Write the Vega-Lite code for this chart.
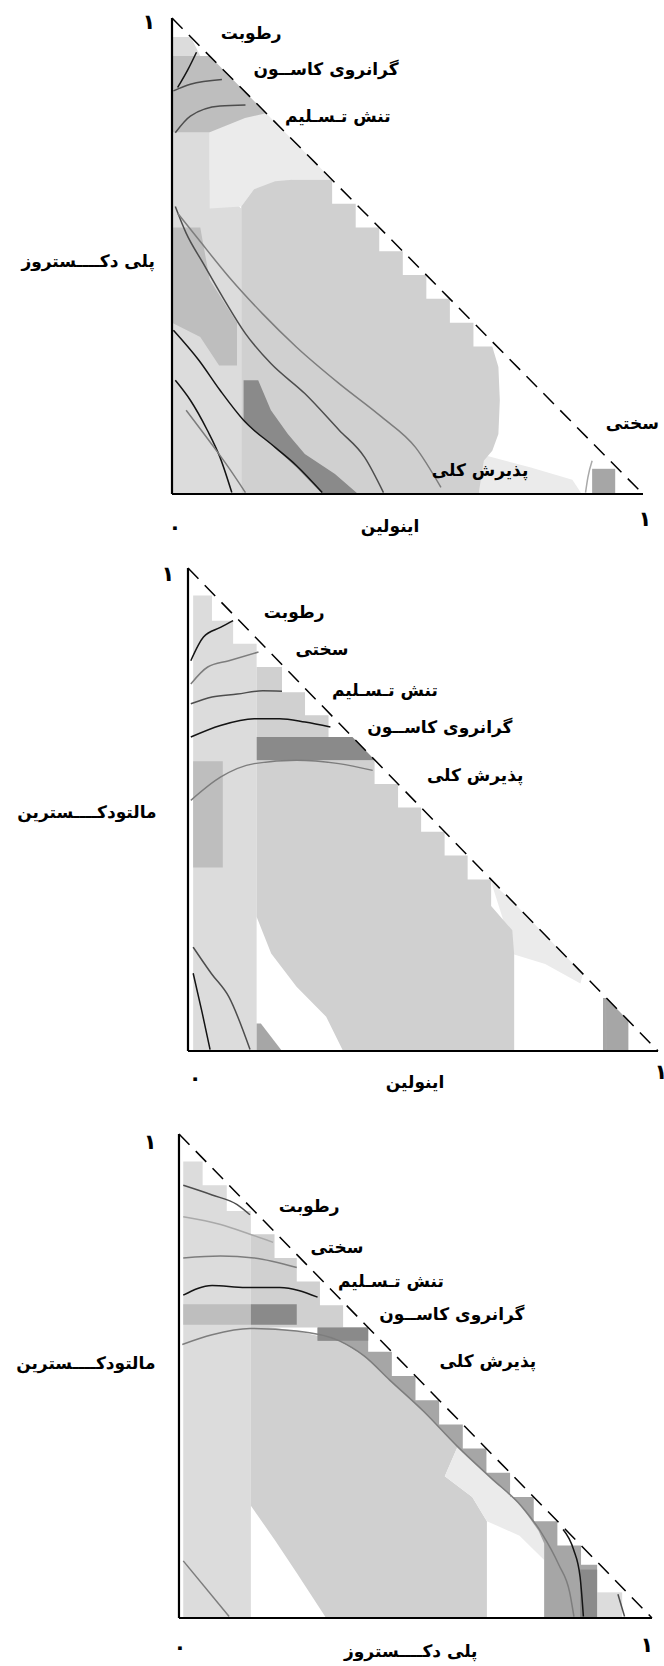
{
"$schema": "https://vega.github.io/schema/vega-lite/v6.json",
"padding": 0,
"spacing": 0,
"bounds": "flush",
"config": {"view": {"stroke": null}},
"datasets": {
"frame": [
{"k":"axis","x":0,"y":0,"x2":0,"y2":1},
{"k":"axis","x":0,"y":0,"x2":1,"y2":0},
{"k":"hyp","x":0,"y":1,"x2":1,"y2":0}
],
"regions": [
{"p":1,"id":"A","z":0,"s":"l2","i":0,"x":0,"y":0},
{"p":1,"id":"A","z":0,"s":"l2","i":1,"x":0.147,"y":0},
{"p":1,"id":"A","z":0,"s":"l2","i":2,"x":0.147,"y":0.6},
{"p":1,"id":"A","z":0,"s":"l2","i":3,"x":0.08,"y":0.66},
{"p":1,"id":"A","z":0,"s":"l2","i":4,"x":0.08,"y":0.88},
{"p":1,"id":"A","z":0,"s":"l2","i":5,"x":0.04,"y":0.96},
{"p":1,"id":"A","z":0,"s":"l2","i":6,"x":0,"y":0.96},
{"p":1,"id":"C","z":0,"s":"l1","i":0,"x":0.08,"y":0.6},
{"p":1,"id":"C","z":0,"s":"l1","i":1,"x":0.08,"y":0.78},
{"p":1,"id":"C","z":0,"s":"l1","i":2,"x":0.2,"y":0.8},
{"p":1,"id":"C","z":0,"s":"l1","i":3,"x":0.34,"y":0.66},
{"p":1,"id":"C","z":0,"s":"l1","i":4,"x":0.255,"y":0.66},
{"p":1,"id":"C","z":0,"s":"l1","i":5,"x":0.174,"y":0.64},
{"p":1,"id":"C","z":0,"s":"l1","i":6,"x":0.147,"y":0.604},
{"p":1,"id":"G","z":0,"s":"l1","i":0,"x":0.62,"y":0},
{"p":1,"id":"G","z":0,"s":"l1","i":1,"x":0.87,"y":0},
{"p":1,"id":"G","z":0,"s":"l1","i":2,"x":0.85,"y":0.03},
{"p":1,"id":"G","z":0,"s":"l1","i":3,"x":0.76,"y":0.056},
{"p":1,"id":"G","z":0,"s":"l1","i":4,"x":0.67,"y":0.08},
{"p":1,"id":"G","z":0,"s":"l1","i":5,"x":0.62,"y":0.05},
{"p":1,"id":"D","z":1,"s":"m1","i":0,"x":0.147,"y":0.604},
{"p":1,"id":"D","z":1,"s":"m1","i":1,"x":0.174,"y":0.64},
{"p":1,"id":"D","z":1,"s":"m1","i":2,"x":0.219,"y":0.657},
{"p":1,"id":"D","z":1,"s":"m1","i":3,"x":0.255,"y":0.66},
{"p":1,"id":"D","z":1,"s":"m1","i":4,"x":0.34,"y":0.66},
{"p":1,"id":"D","z":1,"s":"m1","i":5,"x":0.34,"y":0.61},
{"p":1,"id":"D","z":1,"s":"m1","i":6,"x":0.39,"y":0.61},
{"p":1,"id":"D","z":1,"s":"m1","i":7,"x":0.39,"y":0.56},
{"p":1,"id":"D","z":1,"s":"m1","i":8,"x":0.44,"y":0.56},
{"p":1,"id":"D","z":1,"s":"m1","i":9,"x":0.44,"y":0.51},
{"p":1,"id":"D","z":1,"s":"m1","i":10,"x":0.49,"y":0.51},
{"p":1,"id":"D","z":1,"s":"m1","i":11,"x":0.49,"y":0.46},
{"p":1,"id":"D","z":1,"s":"m1","i":12,"x":0.54,"y":0.46},
{"p":1,"id":"D","z":1,"s":"m1","i":13,"x":0.54,"y":0.41},
{"p":1,"id":"D","z":1,"s":"m1","i":14,"x":0.59,"y":0.41},
{"p":1,"id":"D","z":1,"s":"m1","i":15,"x":0.59,"y":0.36},
{"p":1,"id":"D","z":1,"s":"m1","i":16,"x":0.64,"y":0.36},
{"p":1,"id":"D","z":1,"s":"m1","i":17,"x":0.64,"y":0.31},
{"p":1,"id":"D","z":1,"s":"m1","i":18,"x":0.68,"y":0.31},
{"p":1,"id":"D","z":1,"s":"m1","i":19,"x":0.693,"y":0.267},
{"p":1,"id":"D","z":1,"s":"m1","i":20,"x":0.696,"y":0.197},
{"p":1,"id":"D","z":1,"s":"m1","i":21,"x":0.693,"y":0.126},
{"p":1,"id":"D","z":1,"s":"m1","i":22,"x":0.68,"y":0.091},
{"p":1,"id":"D","z":1,"s":"m1","i":23,"x":0.662,"y":0.07},
{"p":1,"id":"D","z":1,"s":"m1","i":24,"x":0.652,"y":0.007},
{"p":1,"id":"D","z":1,"s":"m1","i":25,"x":0.652,"y":0},
{"p":1,"id":"D","z":1,"s":"m1","i":26,"x":0.147,"y":0},
{"p":1,"id":"B","z":2,"s":"m","i":0,"x":0,"y":0.76},
{"p":1,"id":"B","z":2,"s":"m","i":1,"x":0.08,"y":0.76},
{"p":1,"id":"B","z":2,"s":"m","i":2,"x":0.155,"y":0.79},
{"p":1,"id":"B","z":2,"s":"m","i":3,"x":0.2,"y":0.8},
{"p":1,"id":"B","z":2,"s":"m","i":4,"x":0.08,"y":0.92},
{"p":1,"id":"B","z":2,"s":"m","i":5,"x":0,"y":0.92},
{"p":1,"id":"H","z":2,"s":"m","i":0,"x":0,"y":0.56},
{"p":1,"id":"H","z":2,"s":"m","i":1,"x":0.06,"y":0.56},
{"p":1,"id":"H","z":2,"s":"m","i":2,"x":0.08,"y":0.45},
{"p":1,"id":"H","z":2,"s":"m","i":3,"x":0.138,"y":0.36},
{"p":1,"id":"H","z":2,"s":"m","i":4,"x":0.138,"y":0.27},
{"p":1,"id":"H","z":2,"s":"m","i":5,"x":0.1,"y":0.27},
{"p":1,"id":"H","z":2,"s":"m","i":6,"x":0.06,"y":0.33},
{"p":1,"id":"H","z":2,"s":"m","i":7,"x":0,"y":0.36},
{"p":1,"id":"E","z":2,"s":"d2","i":0,"x":0.152,"y":0.239},
{"p":1,"id":"E","z":2,"s":"d2","i":1,"x":0.183,"y":0.239},
{"p":1,"id":"E","z":2,"s":"d2","i":2,"x":0.21,"y":0.176},
{"p":1,"id":"E","z":2,"s":"d2","i":3,"x":0.246,"y":0.126},
{"p":1,"id":"E","z":2,"s":"d2","i":4,"x":0.282,"y":0.084},
{"p":1,"id":"E","z":2,"s":"d2","i":5,"x":0.346,"y":0.042},
{"p":1,"id":"E","z":2,"s":"d2","i":6,"x":0.395,"y":0},
{"p":1,"id":"E","z":2,"s":"d2","i":7,"x":0.319,"y":0},
{"p":1,"id":"E","z":2,"s":"d2","i":8,"x":0.264,"y":0.056},
{"p":1,"id":"E","z":2,"s":"d2","i":9,"x":0.21,"y":0.105},
{"p":1,"id":"E","z":2,"s":"d2","i":10,"x":0.152,"y":0.155},
{"p":1,"id":"F","z":2,"s":"d1","i":0,"x":0.892,"y":0},
{"p":1,"id":"F","z":2,"s":"d1","i":1,"x":0.941,"y":0},
{"p":1,"id":"F","z":2,"s":"d1","i":2,"x":0.941,"y":0.053},
{"p":1,"id":"F","z":2,"s":"d1","i":3,"x":0.892,"y":0.053},

{"p":2,"id":"A","z":0,"s":"l2","i":0,"x":0.011,"y":0},
{"p":2,"id":"A","z":0,"s":"l2","i":1,"x":0.146,"y":0},
{"p":2,"id":"A","z":0,"s":"l2","i":2,"x":0.146,"y":0.843},
{"p":2,"id":"A","z":0,"s":"l2","i":3,"x":0.096,"y":0.843},
{"p":2,"id":"A","z":0,"s":"l2","i":4,"x":0.096,"y":0.891},
{"p":2,"id":"A","z":0,"s":"l2","i":5,"x":0.051,"y":0.891},
{"p":2,"id":"A","z":0,"s":"l2","i":6,"x":0.051,"y":0.943},
{"p":2,"id":"A","z":0,"s":"l2","i":7,"x":0.011,"y":0.943},
{"p":2,"id":"S","z":0,"s":"m1","i":0,"x":0.146,"y":0.795},
{"p":2,"id":"S","z":0,"s":"m1","i":1,"x":0.2,"y":0.795},
{"p":2,"id":"S","z":0,"s":"m1","i":2,"x":0.2,"y":0.743},
{"p":2,"id":"S","z":0,"s":"m1","i":3,"x":0.249,"y":0.743},
{"p":2,"id":"S","z":0,"s":"m1","i":4,"x":0.249,"y":0.695},
{"p":2,"id":"S","z":0,"s":"m1","i":5,"x":0.299,"y":0.695},
{"p":2,"id":"S","z":0,"s":"m1","i":6,"x":0.299,"y":0.65},
{"p":2,"id":"S","z":0,"s":"m1","i":7,"x":0.146,"y":0.65},
{"p":2,"id":"L","z":0,"s":"l1","i":0,"x":0.645,"y":0.35},
{"p":2,"id":"L","z":0,"s":"l1","i":1,"x":0.69,"y":0.31},
{"p":2,"id":"L","z":0,"s":"l1","i":2,"x":0.84,"y":0.16},
{"p":2,"id":"L","z":0,"s":"l1","i":3,"x":0.835,"y":0.14},
{"p":2,"id":"L","z":0,"s":"l1","i":4,"x":0.76,"y":0.18},
{"p":2,"id":"L","z":0,"s":"l1","i":5,"x":0.694,"y":0.2},
{"p":2,"id":"D","z":1,"s":"m1","i":0,"x":0.146,"y":0.602},
{"p":2,"id":"D","z":1,"s":"m1","i":1,"x":0.397,"y":0.602},
{"p":2,"id":"D","z":1,"s":"m1","i":2,"x":0.397,"y":0.553},
{"p":2,"id":"D","z":1,"s":"m1","i":3,"x":0.447,"y":0.553},
{"p":2,"id":"D","z":1,"s":"m1","i":4,"x":0.447,"y":0.504},
{"p":2,"id":"D","z":1,"s":"m1","i":5,"x":0.496,"y":0.504},
{"p":2,"id":"D","z":1,"s":"m1","i":6,"x":0.496,"y":0.454},
{"p":2,"id":"D","z":1,"s":"m1","i":7,"x":0.546,"y":0.454},
{"p":2,"id":"D","z":1,"s":"m1","i":8,"x":0.546,"y":0.405},
{"p":2,"id":"D","z":1,"s":"m1","i":9,"x":0.595,"y":0.405},
{"p":2,"id":"D","z":1,"s":"m1","i":10,"x":0.595,"y":0.355},
{"p":2,"id":"D","z":1,"s":"m1","i":11,"x":0.645,"y":0.355},
{"p":2,"id":"D","z":1,"s":"m1","i":12,"x":0.645,"y":0.3},
{"p":2,"id":"D","z":1,"s":"m1","i":13,"x":0.69,"y":0.25},
{"p":2,"id":"D","z":1,"s":"m1","i":14,"x":0.694,"y":0.2},
{"p":2,"id":"D","z":1,"s":"m1","i":15,"x":0.694,"y":0},
{"p":2,"id":"D","z":1,"s":"m1","i":16,"x":0.33,"y":0},
{"p":2,"id":"D","z":1,"s":"m1","i":17,"x":0.294,"y":0.071},
{"p":2,"id":"D","z":1,"s":"m1","i":18,"x":0.231,"y":0.133},
{"p":2,"id":"D","z":1,"s":"m1","i":19,"x":0.177,"y":0.202},
{"p":2,"id":"D","z":1,"s":"m1","i":20,"x":0.146,"y":0.278},
{"p":2,"id":"DB","z":2,"s":"d2","i":0,"x":0.146,"y":0.65},
{"p":2,"id":"DB","z":2,"s":"d2","i":1,"x":0.35,"y":0.65},
{"p":2,"id":"DB","z":2,"s":"d2","i":2,"x":0.398,"y":0.602},
{"p":2,"id":"DB","z":2,"s":"d2","i":3,"x":0.146,"y":0.602},
{"p":2,"id":"DL","z":2,"s":"m","i":0,"x":0.011,"y":0.6},
{"p":2,"id":"DL","z":2,"s":"m","i":1,"x":0.074,"y":0.6},
{"p":2,"id":"DL","z":2,"s":"m","i":2,"x":0.074,"y":0.38},
{"p":2,"id":"DL","z":2,"s":"m","i":3,"x":0.011,"y":0.38},
{"p":2,"id":"DT","z":2,"s":"d1","i":0,"x":0.146,"y":0.057},
{"p":2,"id":"DT","z":2,"s":"d1","i":1,"x":0.155,"y":0.057},
{"p":2,"id":"DT","z":2,"s":"d1","i":2,"x":0.2,"y":0},
{"p":2,"id":"DT","z":2,"s":"d1","i":3,"x":0.146,"y":0},
{"p":2,"id":"BR","z":2,"s":"d1","i":0,"x":0.883,"y":0},
{"p":2,"id":"BR","z":2,"s":"d1","i":1,"x":0.937,"y":0},
{"p":2,"id":"BR","z":2,"s":"d1","i":2,"x":0.937,"y":0.063},
{"p":2,"id":"BR","z":2,"s":"d1","i":3,"x":0.89,"y":0.11},
{"p":2,"id":"BR","z":2,"s":"d1","i":4,"x":0.883,"y":0.11},

{"p":3,"id":"A","z":0,"s":"l2","i":0,"x":0.009,"y":0},
{"p":3,"id":"A","z":0,"s":"l2","i":1,"x":0.152,"y":0},
{"p":3,"id":"A","z":0,"s":"l2","i":2,"x":0.152,"y":0.841},
{"p":3,"id":"A","z":0,"s":"l2","i":3,"x":0.101,"y":0.841},
{"p":3,"id":"A","z":0,"s":"l2","i":4,"x":0.101,"y":0.894},
{"p":3,"id":"A","z":0,"s":"l2","i":5,"x":0.05,"y":0.894},
{"p":3,"id":"A","z":0,"s":"l2","i":6,"x":0.05,"y":0.943},
{"p":3,"id":"A","z":0,"s":"l2","i":7,"x":0.009,"y":0.943},
{"p":3,"id":"S","z":0,"s":"m1","i":0,"x":0.152,"y":0.793},
{"p":3,"id":"S","z":0,"s":"m1","i":1,"x":0.202,"y":0.793},
{"p":3,"id":"S","z":0,"s":"m1","i":2,"x":0.202,"y":0.744},
{"p":3,"id":"S","z":0,"s":"m1","i":3,"x":0.249,"y":0.744},
{"p":3,"id":"S","z":0,"s":"m1","i":4,"x":0.249,"y":0.695},
{"p":3,"id":"S","z":0,"s":"m1","i":5,"x":0.298,"y":0.695},
{"p":3,"id":"S","z":0,"s":"m1","i":6,"x":0.298,"y":0.646},
{"p":3,"id":"S","z":0,"s":"m1","i":7,"x":0.347,"y":0.646},
{"p":3,"id":"S","z":0,"s":"m1","i":8,"x":0.347,"y":0.6},
{"p":3,"id":"S","z":0,"s":"m1","i":9,"x":0.152,"y":0.6},
{"p":3,"id":"L3","z":0,"s":"m1","i":0,"x":0.152,"y":0.606},
{"p":3,"id":"L3","z":0,"s":"m1","i":1,"x":0.249,"y":0.593},
{"p":3,"id":"L3","z":0,"s":"m1","i":2,"x":0.338,"y":0.573},
{"p":3,"id":"L3","z":0,"s":"m1","i":3,"x":0.392,"y":0.541},
{"p":3,"id":"L3","z":0,"s":"m1","i":4,"x":0.445,"y":0.492},
{"p":3,"id":"L3","z":0,"s":"m1","i":5,"x":0.517,"y":0.427},
{"p":3,"id":"L3","z":0,"s":"m1","i":6,"x":0.589,"y":0.354},
{"p":3,"id":"L3","z":0,"s":"m1","i":7,"x":0.562,"y":0.293},
{"p":3,"id":"L3","z":0,"s":"m1","i":8,"x":0.62,"y":0.25},
{"p":3,"id":"L3","z":0,"s":"m1","i":9,"x":0.651,"y":0.2},
{"p":3,"id":"L3","z":0,"s":"m1","i":10,"x":0.651,"y":0},
{"p":3,"id":"L3","z":0,"s":"m1","i":11,"x":0.311,"y":0},
{"p":3,"id":"L3","z":0,"s":"m1","i":12,"x":0.249,"y":0.093},
{"p":3,"id":"L3","z":0,"s":"m1","i":13,"x":0.204,"y":0.159},
{"p":3,"id":"L3","z":0,"s":"m1","i":14,"x":0.152,"y":0.232},
{"p":3,"id":"LB","z":0,"s":"l1","i":0,"x":0.589,"y":0.354},
{"p":3,"id":"LB","z":0,"s":"l1","i":1,"x":0.66,"y":0.289},
{"p":3,"id":"LB","z":0,"s":"l1","i":2,"x":0.723,"y":0.232},
{"p":3,"id":"LB","z":0,"s":"l1","i":3,"x":0.76,"y":0.18},
{"p":3,"id":"LB","z":0,"s":"l1","i":4,"x":0.772,"y":0.154},
{"p":3,"id":"LB","z":0,"s":"l1","i":5,"x":0.772,"y":0.12},
{"p":3,"id":"LB","z":0,"s":"l1","i":6,"x":0.72,"y":0.17},
{"p":3,"id":"LB","z":0,"s":"l1","i":7,"x":0.651,"y":0.2},
{"p":3,"id":"LB","z":0,"s":"l1","i":8,"x":0.62,"y":0.25},
{"p":3,"id":"LB","z":0,"s":"l1","i":9,"x":0.562,"y":0.293},
{"p":3,"id":"M","z":1,"s":"d1","i":0,"x":0.293,"y":0.6},
{"p":3,"id":"M","z":1,"s":"d1","i":1,"x":0.4,"y":0.6},
{"p":3,"id":"M","z":1,"s":"d1","i":2,"x":0.4,"y":0.55},
{"p":3,"id":"M","z":1,"s":"d1","i":3,"x":0.45,"y":0.55},
{"p":3,"id":"M","z":1,"s":"d1","i":4,"x":0.45,"y":0.5},
{"p":3,"id":"M","z":1,"s":"d1","i":5,"x":0.5,"y":0.5},
{"p":3,"id":"M","z":1,"s":"d1","i":6,"x":0.5,"y":0.45},
{"p":3,"id":"M","z":1,"s":"d1","i":7,"x":0.55,"y":0.45},
{"p":3,"id":"M","z":1,"s":"d1","i":8,"x":0.55,"y":0.4},
{"p":3,"id":"M","z":1,"s":"d1","i":9,"x":0.6,"y":0.4},
{"p":3,"id":"M","z":1,"s":"d1","i":10,"x":0.6,"y":0.35},
{"p":3,"id":"M","z":1,"s":"d1","i":11,"x":0.65,"y":0.35},
{"p":3,"id":"M","z":1,"s":"d1","i":12,"x":0.65,"y":0.3},
{"p":3,"id":"M","z":1,"s":"d1","i":13,"x":0.7,"y":0.3},
{"p":3,"id":"M","z":1,"s":"d1","i":14,"x":0.7,"y":0.25},
{"p":3,"id":"M","z":1,"s":"d1","i":15,"x":0.75,"y":0.25},
{"p":3,"id":"M","z":1,"s":"d1","i":16,"x":0.75,"y":0.2},
{"p":3,"id":"M","z":1,"s":"d1","i":17,"x":0.8,"y":0.2},
{"p":3,"id":"M","z":1,"s":"d1","i":18,"x":0.8,"y":0.15},
{"p":3,"id":"M","z":1,"s":"d1","i":19,"x":0.85,"y":0.15},
{"p":3,"id":"M","z":1,"s":"d1","i":20,"x":0.85,"y":0.11},
{"p":3,"id":"M","z":1,"s":"d1","i":21,"x":0.884,"y":0.11},
{"p":3,"id":"M","z":1,"s":"d1","i":22,"x":0.884,"y":0},
{"p":3,"id":"M","z":1,"s":"d1","i":23,"x":0.772,"y":0},
{"p":3,"id":"M","z":1,"s":"d1","i":24,"x":0.772,"y":0.154},
{"p":3,"id":"M","z":1,"s":"d1","i":25,"x":0.76,"y":0.18},
{"p":3,"id":"M","z":1,"s":"d1","i":26,"x":0.723,"y":0.232},
{"p":3,"id":"M","z":1,"s":"d1","i":27,"x":0.66,"y":0.289},
{"p":3,"id":"M","z":1,"s":"d1","i":28,"x":0.589,"y":0.354},
{"p":3,"id":"M","z":1,"s":"d1","i":29,"x":0.517,"y":0.427},
{"p":3,"id":"M","z":1,"s":"d1","i":30,"x":0.445,"y":0.492},
{"p":3,"id":"M","z":1,"s":"d1","i":31,"x":0.392,"y":0.541},
{"p":3,"id":"M","z":1,"s":"d1","i":32,"x":0.338,"y":0.573},
{"p":3,"id":"M","z":1,"s":"d1","i":33,"x":0.293,"y":0.573},
{"p":3,"id":"LP","z":1,"s":"l2","i":0,"x":0.884,"y":0},
{"p":3,"id":"LP","z":1,"s":"l2","i":1,"x":0.937,"y":0},
{"p":3,"id":"LP","z":1,"s":"l2","i":2,"x":0.937,"y":0.053},
{"p":3,"id":"LP","z":1,"s":"l2","i":3,"x":0.884,"y":0.053},
{"p":3,"id":"DL","z":1,"s":"m","i":0,"x":0.009,"y":0.648},
{"p":3,"id":"DL","z":1,"s":"m","i":1,"x":0.152,"y":0.648},
{"p":3,"id":"DL","z":1,"s":"m","i":2,"x":0.152,"y":0.606},
{"p":3,"id":"DL","z":1,"s":"m","i":3,"x":0.009,"y":0.606},
{"p":3,"id":"DB","z":2,"s":"d2","i":0,"x":0.152,"y":0.648},
{"p":3,"id":"DB","z":2,"s":"d2","i":1,"x":0.249,"y":0.648},
{"p":3,"id":"DB","z":2,"s":"d2","i":2,"x":0.249,"y":0.606},
{"p":3,"id":"DB","z":2,"s":"d2","i":3,"x":0.152,"y":0.606},
{"p":3,"id":"TB","z":2,"s":"d2","i":0,"x":0.293,"y":0.6},
{"p":3,"id":"TB","z":2,"s":"d2","i":1,"x":0.4,"y":0.6},
{"p":3,"id":"TB","z":2,"s":"d2","i":2,"x":0.4,"y":0.573},
{"p":3,"id":"TB","z":2,"s":"d2","i":3,"x":0.293,"y":0.573},
{"p":3,"id":"BD","z":2,"s":"d2","i":0,"x":0.848,"y":0},
{"p":3,"id":"BD","z":2,"s":"d2","i":1,"x":0.884,"y":0},
{"p":3,"id":"BD","z":2,"s":"d2","i":2,"x":0.884,"y":0.1},
{"p":3,"id":"BD","z":2,"s":"d2","i":3,"x":0.848,"y":0.1}
],
"contours": [
{"p":1,"id":"c1","t":"k","i":0,"x":0.003,"y":0.344},
{"p":1,"id":"c1","t":"k","i":1,"x":0.057,"y":0.281},
{"p":1,"id":"c1","t":"k","i":2,"x":0.102,"y":0.218},
{"p":1,"id":"c1","t":"k","i":3,"x":0.152,"y":0.155},
{"p":1,"id":"c1","t":"k","i":4,"x":0.219,"y":0.098},
{"p":1,"id":"c1","t":"k","i":5,"x":0.264,"y":0.06},
{"p":1,"id":"c1","t":"k","i":6,"x":0.319,"y":0.003},
{"p":1,"id":"c2","t":"k","i":0,"x":0.007,"y":0.239},
{"p":1,"id":"c2","t":"k","i":1,"x":0.039,"y":0.197},
{"p":1,"id":"c2","t":"k","i":2,"x":0.075,"y":0.134},
{"p":1,"id":"c2","t":"k","i":3,"x":0.102,"y":0.077},
{"p":1,"id":"c2","t":"k","i":4,"x":0.127,"y":0.003},
{"p":1,"id":"c3","t":"g","i":0,"x":0.03,"y":0.176},
{"p":1,"id":"c3","t":"g","i":1,"x":0.084,"y":0.105},
{"p":1,"id":"c3","t":"g","i":2,"x":0.12,"y":0.056},
{"p":1,"id":"c3","t":"g","i":3,"x":0.156,"y":0.003},
{"p":1,"id":"c4","t":"dg","i":0,"x":0.007,"y":0.604},
{"p":1,"id":"c4","t":"dg","i":1,"x":0.03,"y":0.548},
{"p":1,"id":"c4","t":"dg","i":2,"x":0.066,"y":0.485},
{"p":1,"id":"c4","t":"dg","i":3,"x":0.111,"y":0.408},
{"p":1,"id":"c4","t":"dg","i":4,"x":0.156,"y":0.337},
{"p":1,"id":"c4","t":"dg","i":5,"x":0.21,"y":0.274},
{"p":1,"id":"c4","t":"dg","i":6,"x":0.282,"y":0.211},
{"p":1,"id":"c4","t":"dg","i":7,"x":0.355,"y":0.134},
{"p":1,"id":"c4","t":"dg","i":8,"x":0.409,"y":0.077},
{"p":1,"id":"c4","t":"dg","i":9,"x":0.449,"y":0.003},
{"p":1,"id":"c5","t":"g","i":0,"x":0.012,"y":0.59},
{"p":1,"id":"c5","t":"g","i":1,"x":0.057,"y":0.534},
{"p":1,"id":"c5","t":"g","i":2,"x":0.12,"y":0.457},
{"p":1,"id":"c5","t":"g","i":3,"x":0.192,"y":0.379},
{"p":1,"id":"c5","t":"g","i":4,"x":0.264,"y":0.309},
{"p":1,"id":"c5","t":"g","i":5,"x":0.355,"y":0.232},
{"p":1,"id":"c5","t":"g","i":6,"x":0.445,"y":0.162},
{"p":1,"id":"c5","t":"g","i":7,"x":0.517,"y":0.098},
{"p":1,"id":"c5","t":"g","i":8,"x":0.571,"y":0.014},
{"p":1,"id":"c6","t":"k","i":0,"x":0.052,"y":0.928},
{"p":1,"id":"c6","t":"k","i":1,"x":0.034,"y":0.892},
{"p":1,"id":"c6","t":"k","i":2,"x":0.012,"y":0.854},
{"p":1,"id":"c7","t":"dg","i":0,"x":0.003,"y":0.847},
{"p":1,"id":"c7","t":"dg","i":1,"x":0.039,"y":0.861},
{"p":1,"id":"c7","t":"dg","i":2,"x":0.106,"y":0.871},
{"p":1,"id":"c8","t":"dg","i":0,"x":0.007,"y":0.759},
{"p":1,"id":"c8","t":"dg","i":1,"x":0.039,"y":0.794},
{"p":1,"id":"c8","t":"dg","i":2,"x":0.102,"y":0.815},
{"p":1,"id":"c8","t":"dg","i":3,"x":0.156,"y":0.817},
{"p":1,"id":"c9","t":"lg","i":0,"x":0.892,"y":0.07},
{"p":1,"id":"c9","t":"lg","i":1,"x":0.883,"y":0.035},
{"p":1,"id":"c9","t":"lg","i":2,"x":0.878,"y":0.003},

{"p":2,"id":"c1","t":"k","i":0,"x":0.006,"y":0.808},
{"p":2,"id":"c1","t":"k","i":1,"x":0.033,"y":0.857},
{"p":2,"id":"c1","t":"k","i":2,"x":0.069,"y":0.877},
{"p":2,"id":"c1","t":"k","i":3,"x":0.096,"y":0.891},
{"p":2,"id":"c2","t":"g","i":0,"x":0.006,"y":0.76},
{"p":2,"id":"c2","t":"g","i":1,"x":0.042,"y":0.795},
{"p":2,"id":"c2","t":"g","i":2,"x":0.087,"y":0.808},
{"p":2,"id":"c2","t":"g","i":3,"x":0.15,"y":0.826},
{"p":2,"id":"c3","t":"dg","i":0,"x":0.006,"y":0.719},
{"p":2,"id":"c3","t":"dg","i":1,"x":0.051,"y":0.733},
{"p":2,"id":"c3","t":"dg","i":2,"x":0.105,"y":0.739},
{"p":2,"id":"c3","t":"dg","i":3,"x":0.159,"y":0.746},
{"p":2,"id":"c3","t":"dg","i":4,"x":0.2,"y":0.745},
{"p":2,"id":"c4","t":"k","i":0,"x":0.006,"y":0.65},
{"p":2,"id":"c4","t":"k","i":1,"x":0.069,"y":0.674},
{"p":2,"id":"c4","t":"k","i":2,"x":0.141,"y":0.688},
{"p":2,"id":"c4","t":"k","i":3,"x":0.195,"y":0.688},
{"p":2,"id":"c4","t":"k","i":4,"x":0.249,"y":0.681},
{"p":2,"id":"c4","t":"k","i":5,"x":0.303,"y":0.671},
{"p":2,"id":"c5","t":"g","i":0,"x":0.006,"y":0.519},
{"p":2,"id":"c5","t":"g","i":1,"x":0.069,"y":0.567},
{"p":2,"id":"c5","t":"g","i":2,"x":0.141,"y":0.595},
{"p":2,"id":"c5","t":"g","i":3,"x":0.231,"y":0.602},
{"p":2,"id":"c5","t":"g","i":4,"x":0.321,"y":0.595},
{"p":2,"id":"c5","t":"g","i":5,"x":0.393,"y":0.581},
{"p":2,"id":"c6","t":"k","i":0,"x":0.011,"y":0.161},
{"p":2,"id":"c6","t":"k","i":1,"x":0.03,"y":0.08},
{"p":2,"id":"c6","t":"k","i":2,"x":0.047,"y":0.003},
{"p":2,"id":"c7","t":"dg","i":0,"x":0.011,"y":0.215},
{"p":2,"id":"c7","t":"dg","i":1,"x":0.05,"y":0.16},
{"p":2,"id":"c7","t":"dg","i":2,"x":0.087,"y":0.112},
{"p":2,"id":"c7","t":"dg","i":3,"x":0.132,"y":0.003},
{"p":2,"id":"c8","t":"lg","i":0,"x":0.888,"y":0.105},
{"p":2,"id":"c8","t":"lg","i":1,"x":0.89,"y":0.003},

{"p":3,"id":"c1","t":"dg","i":0,"x":0.009,"y":0.894},
{"p":3,"id":"c1","t":"dg","i":1,"x":0.07,"y":0.874},
{"p":3,"id":"c1","t":"dg","i":2,"x":0.123,"y":0.854},
{"p":3,"id":"c1","t":"dg","i":3,"x":0.15,"y":0.833},
{"p":3,"id":"c2","t":"lg","i":0,"x":0.009,"y":0.829},
{"p":3,"id":"c2","t":"lg","i":1,"x":0.088,"y":0.813},
{"p":3,"id":"c2","t":"lg","i":2,"x":0.15,"y":0.793},
{"p":3,"id":"c2","t":"lg","i":3,"x":0.199,"y":0.776},
{"p":3,"id":"c3","t":"g","i":0,"x":0.009,"y":0.744},
{"p":3,"id":"c3","t":"g","i":1,"x":0.088,"y":0.748},
{"p":3,"id":"c3","t":"g","i":2,"x":0.159,"y":0.744},
{"p":3,"id":"c3","t":"g","i":3,"x":0.249,"y":0.724},
{"p":3,"id":"c4","t":"k","i":0,"x":0.009,"y":0.667},
{"p":3,"id":"c4","t":"k","i":1,"x":0.07,"y":0.687},
{"p":3,"id":"c4","t":"k","i":2,"x":0.141,"y":0.683},
{"p":3,"id":"c4","t":"k","i":3,"x":0.213,"y":0.683},
{"p":3,"id":"c4","t":"k","i":4,"x":0.293,"y":0.663},
{"p":3,"id":"c5","t":"g","i":0,"x":0.007,"y":0.565},
{"p":3,"id":"c5","t":"g","i":1,"x":0.07,"y":0.585},
{"p":3,"id":"c5","t":"g","i":2,"x":0.15,"y":0.598},
{"p":3,"id":"c5","t":"g","i":3,"x":0.249,"y":0.593},
{"p":3,"id":"c5","t":"g","i":4,"x":0.338,"y":0.573},
{"p":3,"id":"c5","t":"g","i":5,"x":0.392,"y":0.541},
{"p":3,"id":"c5","t":"g","i":6,"x":0.445,"y":0.492},
{"p":3,"id":"c5","t":"g","i":7,"x":0.517,"y":0.427},
{"p":3,"id":"c5","t":"g","i":8,"x":0.589,"y":0.354},
{"p":3,"id":"c5","t":"g","i":9,"x":0.66,"y":0.289},
{"p":3,"id":"c5","t":"g","i":10,"x":0.723,"y":0.232},
{"p":3,"id":"c5","t":"g","i":11,"x":0.767,"y":0.175},
{"p":3,"id":"c5","t":"g","i":12,"x":0.803,"y":0.11},
{"p":3,"id":"c5","t":"g","i":13,"x":0.826,"y":0.053},
{"p":3,"id":"c5","t":"g","i":14,"x":0.835,"y":0.003},
{"p":3,"id":"c6","t":"k","i":0,"x":0.812,"y":0.183},
{"p":3,"id":"c6","t":"k","i":1,"x":0.834,"y":0.142},
{"p":3,"id":"c6","t":"k","i":2,"x":0.848,"y":0.085},
{"p":3,"id":"c6","t":"k","i":3,"x":0.855,"y":0.003},
{"p":3,"id":"c7","t":"g","i":0,"x":0.009,"y":0.118},
{"p":3,"id":"c7","t":"g","i":1,"x":0.106,"y":0.003},
{"p":3,"id":"c8","t":"dg","i":0,"x":0.928,"y":0.049},
{"p":3,"id":"c8","t":"dg","i":1,"x":0.942,"y":0.003}
],
"labels": [
{"p":1,"k":"n","x":-0.049,"y":0.99,"t":"۱"},
{"p":1,"k":"c","x":0.168,"y":0.966,"t":"رطوبت"},
{"p":1,"k":"c","x":0.327,"y":0.891,"t":"گرانروی کاســون"},
{"p":1,"k":"c","x":0.352,"y":0.792,"t":"تنش تـسـلیم"},
{"p":1,"k":"l","x":0.921,"y":0.147,"t":"سختی"},
{"p":1,"k":"c","x":0.654,"y":0.048,"t":"پذیرش کلی"},
{"p":1,"k":"c","x":-0.178,"y":0.487,"t":"پلی دکــــستروز"},
{"p":1,"k":"c","x":0.463,"y":-0.069,"t":"اینولین"},
{"p":1,"k":"n","x":0.006,"y":-0.071,"t":"۰"},
{"p":1,"k":"n","x":1.004,"y":-0.055,"t":"۱"},
{"p":2,"k":"n","x":-0.043,"y":0.986,"t":"۱"},
{"p":2,"k":"c","x":0.226,"y":0.907,"t":"رطوبت"},
{"p":2,"k":"c","x":0.285,"y":0.83,"t":"سختی"},
{"p":2,"k":"c","x":0.419,"y":0.745,"t":"تنش تـسـلیم"},
{"p":2,"k":"c","x":0.536,"y":0.669,"t":"گرانروی کاســون"},
{"p":2,"k":"c","x":0.611,"y":0.569,"t":"پذیرش کلی"},
{"p":2,"k":"c","x":-0.215,"y":0.493,"t":"مالتودکــــسترین"},
{"p":2,"k":"c","x":0.483,"y":-0.066,"t":"اینولین"},
{"p":2,"k":"n","x":0.015,"y":-0.058,"t":"۰"},
{"p":2,"k":"n","x":1.006,"y":-0.046,"t":"۱"},
{"p":3,"k":"n","x":-0.061,"y":0.981,"t":"۱"},
{"p":3,"k":"c","x":0.275,"y":0.849,"t":"رطوبت"},
{"p":3,"k":"c","x":0.334,"y":0.765,"t":"سختی"},
{"p":3,"k":"c","x":0.448,"y":0.694,"t":"تنش تـسـلیم"},
{"p":3,"k":"c","x":0.577,"y":0.626,"t":"گرانروی کاســون"},
{"p":3,"k":"c","x":0.653,"y":0.529,"t":"پذیرش کلی"},
{"p":3,"k":"c","x":-0.197,"y":0.525,"t":"مالتودکــــسترین"},
{"p":3,"k":"c","x":0.49,"y":-0.07,"t":"پلی دکــــستروز"},
{"p":3,"k":"n","x":0.002,"y":-0.062,"t":"۰"},
{"p":3,"k":"n","x":0.989,"y":-0.058,"t":"۱"}
]
},
"vconcat": [
{
"width": 664, "height": 545,
"encoding": {
"x": {"field":"x","type":"quantitative","scale":{"domain":[-0.3652,1.0446],"nice":false,"zero":false},"axis":null},
"y": {"field":"y","type":"quantitative","scale":{"domain":[-0.1071,1.0378],"nice":false,"zero":false},"axis":null}
},
"layer": [
{"data":{"name":"regions"},"transform":[{"filter":"datum.p==1 && datum.z==0"}],"mark":{"type":"line","strokeOpacity":0},"encoding":{"detail":{"field":"id"},"order":{"field":"i","type":"quantitative"},"fill":{"field":"s","type":"nominal","scale":{"domain":["l1","l2","m1","m","d1","d2"],"range":["#ebebeb","#dcdcdc","#d0d0d0","#bebebe","#a6a6a6","#8a8a8a"]},"legend":null}}},
{"data":{"name":"regions"},"transform":[{"filter":"datum.p==1 && datum.z==1"}],"mark":{"type":"line","strokeOpacity":0},"encoding":{"detail":{"field":"id"},"order":{"field":"i","type":"quantitative"},"fill":{"field":"s","type":"nominal","scale":{"domain":["l1","l2","m1","m","d1","d2"],"range":["#ebebeb","#dcdcdc","#d0d0d0","#bebebe","#a6a6a6","#8a8a8a"]},"legend":null}}},
{"data":{"name":"regions"},"transform":[{"filter":"datum.p==1 && datum.z==2"}],"mark":{"type":"line","strokeOpacity":0},"encoding":{"detail":{"field":"id"},"order":{"field":"i","type":"quantitative"},"fill":{"field":"s","type":"nominal","scale":{"domain":["l1","l2","m1","m","d1","d2"],"range":["#ebebeb","#dcdcdc","#d0d0d0","#bebebe","#a6a6a6","#8a8a8a"]},"legend":null}}},
{"data":{"name":"contours"},"transform":[{"filter":"datum.p==1"}],"mark":{"type":"line","strokeWidth":1.5,"interpolate":"monotone"},"encoding":{"detail":{"field":"id"},"order":{"field":"i","type":"quantitative"},"stroke":{"field":"t","type":"nominal","scale":{"domain":["k","dg","g","lg"],"range":["#141414","#4d4d4d","#7d7d7d","#a9a9a9"]},"legend":null}}},
{"data":{"name":"frame"},"transform":[{"filter":"datum.k=='axis'"}],"mark":{"type":"rule","color":"#000000","strokeWidth":2.2},"encoding":{"x2":{"field":"x2"},"y2":{"field":"y2"}}},
{"data":{"name":"frame"},"transform":[{"filter":"datum.k=='hyp'"}],"mark":{"type":"rule","color":"#000000","strokeWidth":1.5,"strokeDash":[15,9]},"encoding":{"x2":{"field":"x2"},"y2":{"field":"y2"}}},
{"data":{"name":"labels"},"transform":[{"filter":"datum.p==1 && datum.k=='c'"}],"mark":{"type":"text","font":"DejaVu Sans","fontWeight":"bold","fontSize":17,"align":"center","baseline":"middle","color":"#000000"},"encoding":{"text":{"field":"t"}}},
{"data":{"name":"labels"},"transform":[{"filter":"datum.p==1 && datum.k=='l'"}],"mark":{"type":"text","font":"DejaVu Sans","fontWeight":"bold","fontSize":17,"align":"left","baseline":"middle","color":"#000000"},"encoding":{"text":{"field":"t"}}},
{"data":{"name":"labels"},"transform":[{"filter":"datum.p==1 && datum.k=='n'"}],"mark":{"type":"text","font":"DejaVu Sans","fontWeight":"bold","fontSize":21,"align":"center","baseline":"middle","color":"#000000"},"encoding":{"text":{"field":"t"}}}
]
},
{
"width": 664, "height": 555,
"encoding": {
"x": {"field":"x","type":"quantitative","scale":{"domain":[-0.4,1.0128],"nice":false,"zero":false},"axis":null},
"y": {"field":"y","type":"quantitative","scale":{"domain":[-0.1014,1.0476],"nice":false,"zero":false},"axis":null}
},
"layer": [
{"data":{"name":"regions"},"transform":[{"filter":"datum.p==2 && datum.z==0"}],"mark":{"type":"line","strokeOpacity":0},"encoding":{"detail":{"field":"id"},"order":{"field":"i","type":"quantitative"},"fill":{"field":"s","type":"nominal","scale":{"domain":["l1","l2","m1","m","d1","d2"],"range":["#ebebeb","#dcdcdc","#d0d0d0","#bebebe","#a6a6a6","#8a8a8a"]},"legend":null}}},
{"data":{"name":"regions"},"transform":[{"filter":"datum.p==2 && datum.z==1"}],"mark":{"type":"line","strokeOpacity":0},"encoding":{"detail":{"field":"id"},"order":{"field":"i","type":"quantitative"},"fill":{"field":"s","type":"nominal","scale":{"domain":["l1","l2","m1","m","d1","d2"],"range":["#ebebeb","#dcdcdc","#d0d0d0","#bebebe","#a6a6a6","#8a8a8a"]},"legend":null}}},
{"data":{"name":"regions"},"transform":[{"filter":"datum.p==2 && datum.z==2"}],"mark":{"type":"line","strokeOpacity":0},"encoding":{"detail":{"field":"id"},"order":{"field":"i","type":"quantitative"},"fill":{"field":"s","type":"nominal","scale":{"domain":["l1","l2","m1","m","d1","d2"],"range":["#ebebeb","#dcdcdc","#d0d0d0","#bebebe","#a6a6a6","#8a8a8a"]},"legend":null}}},
{"data":{"name":"contours"},"transform":[{"filter":"datum.p==2"}],"mark":{"type":"line","strokeWidth":1.5,"interpolate":"monotone"},"encoding":{"detail":{"field":"id"},"order":{"field":"i","type":"quantitative"},"stroke":{"field":"t","type":"nominal","scale":{"domain":["k","dg","g","lg"],"range":["#141414","#4d4d4d","#7d7d7d","#a9a9a9"]},"legend":null}}},
{"data":{"name":"frame"},"transform":[{"filter":"datum.k=='axis'"}],"mark":{"type":"rule","color":"#000000","strokeWidth":2.2},"encoding":{"x2":{"field":"x2"},"y2":{"field":"y2"}}},
{"data":{"name":"frame"},"transform":[{"filter":"datum.k=='hyp'"}],"mark":{"type":"rule","color":"#000000","strokeWidth":1.5,"strokeDash":[15,9]},"encoding":{"x2":{"field":"x2"},"y2":{"field":"y2"}}},
{"data":{"name":"labels"},"transform":[{"filter":"datum.p==2 && datum.k=='c'"}],"mark":{"type":"text","font":"DejaVu Sans","fontWeight":"bold","fontSize":17,"align":"center","baseline":"middle","color":"#000000"},"encoding":{"text":{"field":"t"}}},
{"data":{"name":"labels"},"transform":[{"filter":"datum.p==2 && datum.k=='n'"}],"mark":{"type":"text","font":"DejaVu Sans","fontWeight":"bold","fontSize":21,"align":"center","baseline":"middle","color":"#000000"},"encoding":{"text":{"field":"t"}}}
]
},
{
"width": 664, "height": 566,
"encoding": {
"x": {"field":"x","type":"quantitative","scale":{"domain":[-0.3784,1.0254],"nice":false,"zero":false},"axis":null},
"y": {"field":"y","type":"quantitative","scale":{"domain":[-0.0992,1.0702],"nice":false,"zero":false},"axis":null}
},
"layer": [
{"data":{"name":"regions"},"transform":[{"filter":"datum.p==3 && datum.z==0"}],"mark":{"type":"line","strokeOpacity":0},"encoding":{"detail":{"field":"id"},"order":{"field":"i","type":"quantitative"},"fill":{"field":"s","type":"nominal","scale":{"domain":["l1","l2","m1","m","d1","d2"],"range":["#ebebeb","#dcdcdc","#d0d0d0","#bebebe","#a6a6a6","#8a8a8a"]},"legend":null}}},
{"data":{"name":"regions"},"transform":[{"filter":"datum.p==3 && datum.z==1"}],"mark":{"type":"line","strokeOpacity":0},"encoding":{"detail":{"field":"id"},"order":{"field":"i","type":"quantitative"},"fill":{"field":"s","type":"nominal","scale":{"domain":["l1","l2","m1","m","d1","d2"],"range":["#ebebeb","#dcdcdc","#d0d0d0","#bebebe","#a6a6a6","#8a8a8a"]},"legend":null}}},
{"data":{"name":"regions"},"transform":[{"filter":"datum.p==3 && datum.z==2"}],"mark":{"type":"line","strokeOpacity":0},"encoding":{"detail":{"field":"id"},"order":{"field":"i","type":"quantitative"},"fill":{"field":"s","type":"nominal","scale":{"domain":["l1","l2","m1","m","d1","d2"],"range":["#ebebeb","#dcdcdc","#d0d0d0","#bebebe","#a6a6a6","#8a8a8a"]},"legend":null}}},
{"data":{"name":"contours"},"transform":[{"filter":"datum.p==3"}],"mark":{"type":"line","strokeWidth":1.5,"interpolate":"monotone"},"encoding":{"detail":{"field":"id"},"order":{"field":"i","type":"quantitative"},"stroke":{"field":"t","type":"nominal","scale":{"domain":["k","dg","g","lg"],"range":["#141414","#4d4d4d","#7d7d7d","#a9a9a9"]},"legend":null}}},
{"data":{"name":"frame"},"transform":[{"filter":"datum.k=='axis'"}],"mark":{"type":"rule","color":"#000000","strokeWidth":2.2},"encoding":{"x2":{"field":"x2"},"y2":{"field":"y2"}}},
{"data":{"name":"frame"},"transform":[{"filter":"datum.k=='hyp'"}],"mark":{"type":"rule","color":"#000000","strokeWidth":1.5,"strokeDash":[15,9]},"encoding":{"x2":{"field":"x2"},"y2":{"field":"y2"}}},
{"data":{"name":"labels"},"transform":[{"filter":"datum.p==3 && datum.k=='c'"}],"mark":{"type":"text","font":"DejaVu Sans","fontWeight":"bold","fontSize":17,"align":"center","baseline":"middle","color":"#000000"},"encoding":{"text":{"field":"t"}}},
{"data":{"name":"labels"},"transform":[{"filter":"datum.p==3 && datum.k=='n'"}],"mark":{"type":"text","font":"DejaVu Sans","fontWeight":"bold","fontSize":21,"align":"center","baseline":"middle","color":"#000000"},"encoding":{"text":{"field":"t"}}}
]
}
]
}
